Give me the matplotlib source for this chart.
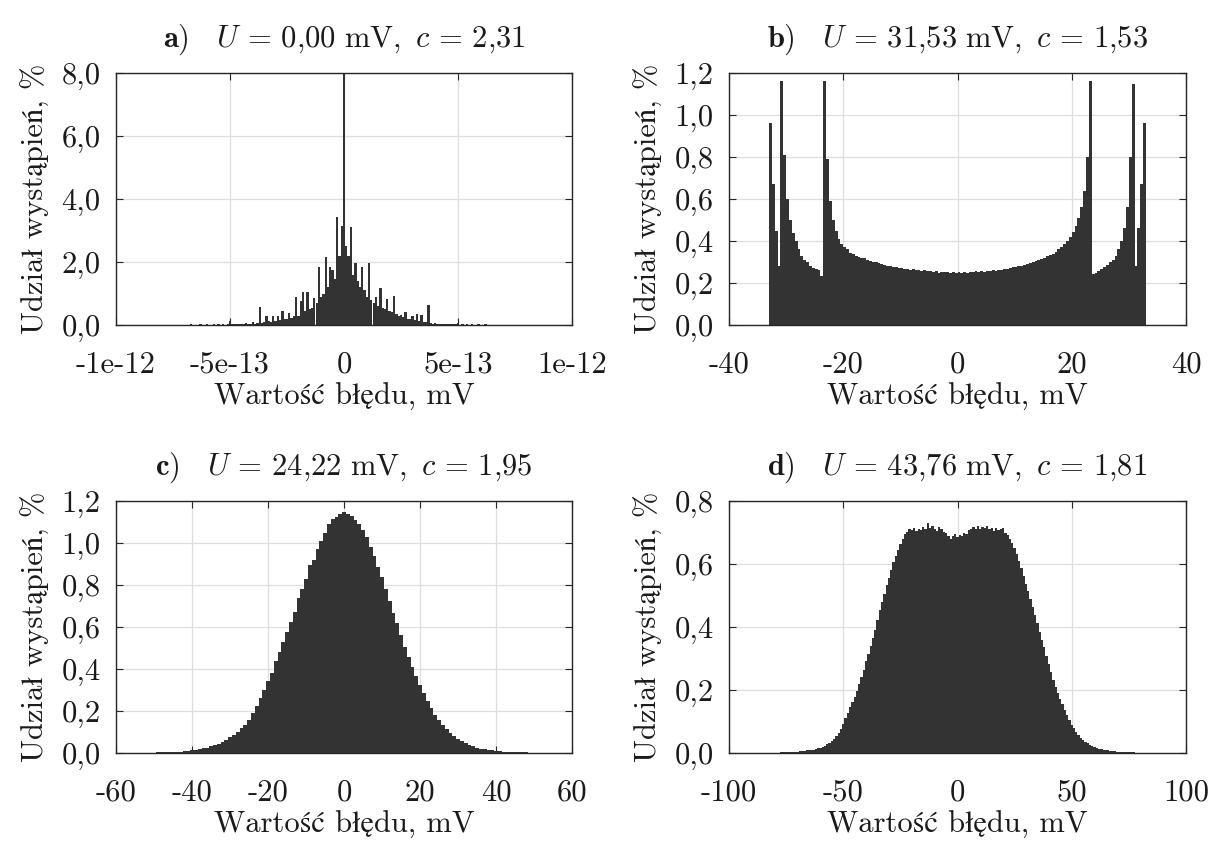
import numpy as np
import matplotlib
matplotlib.use('Agg')
import matplotlib.pyplot as plt
from matplotlib.ticker import FuncFormatter

# Computer Modern look, Polish letters fall back to STIX / DejaVu
plt.rcParams['font.family'] = ['cmr10', 'STIXGeneral', 'DejaVu Serif']
plt.rcParams['mathtext.fontset'] = 'cm'
plt.rcParams['axes.unicode_minus'] = False
plt.rcParams['axes.formatter.use_mathtext'] = True

# ---- data: bar heights in % ----
# a) bins of 1e-14 mV, centres from -80e-14 to 80e-14
A_STEP = 1e-14
A_START = -80e-14
a_vals = [
    0.0, 0.01, 0.0, 0.0, 0.01, 0.0, 0.01, 0.0, 0.0, 0.01,
    0.01, 0.0, 0.01, 0.02, 0.01, 0.0, 0.01, 0.02, 0.01, 0.01,
    0.02, 0.01, 0.01, 0.02, 0.01, 0.02, 0.01, 0.02, 0.01, 0.02,
    0.12, 0.02, 0.02, 0.03, 0.02, 0.03, 0.02, 0.05, 0.02, 0.03,
    0.10, 0.04, 0.05, 0.58, 0.06, 0.08, 0.29, 0.12, 0.10, 0.30,
    0.12, 0.29, 0.15, 0.44, 0.18, 0.20, 0.37, 0.22, 0.28, 0.88,
    0.30, 0.77, 1.06, 0.45, 1.05, 0.50, 0.55, 0.85, 0.70, 1.83,
    0.90, 1.00, 2.16, 1.20, 1.83, 1.75, 1.45, 3.44, 2.20, 3.15,
    8.60,
    2.50, 2.20, 3.12, 1.60, 1.96, 1.40, 1.20, 1.83, 1.10, 0.90,
    1.96, 0.80, 0.70, 0.90, 0.60, 1.16, 0.55, 0.50, 0.82, 0.45,
    0.40, 0.92, 0.35, 0.30, 0.33, 0.25, 0.42, 0.20, 0.18, 0.30,
    0.15, 0.35, 0.12, 0.33, 0.10, 0.08, 0.63, 0.05, 0.04, 0.06,
    0.03, 0.02, 0.04, 0.02, 0.03, 0.02, 0.02, 0.03, 0.02, 0.06,
    0.01, 0.02, 0.01, 0.02, 0.01, 0.02, 0.01, 0.01, 0.02, 0.01,
    0.01, 0.02, 0.01, 0.0, 0.01, 0.01, 0.0, 0.01, 0.01, 0.0,
    0.01, 0.0, 0.0, 0.01, 0.0, 0.0, 0.0, 0.0, 0.0, 0.0,
]

# b) bins of 0.5 mV, centres from -32.75 to 32.75
B_STEP = 0.5
B_START = -32.75
b_vals = [
    0.96, 0.67, 0.45, 0.28, 1.16, 0.81, 0.60, 0.50, 0.44, 0.40,
    0.36, 0.33, 0.31, 0.30, 0.28, 0.27, 0.265, 0.26, 0.235, 1.16,
    0.79, 0.59, 0.50, 0.45, 0.41, 0.385, 0.37, 0.36, 0.345, 0.34,
    0.33, 0.325, 0.32, 0.318, 0.31, 0.305, 0.30, 0.302, 0.295, 0.29,
    0.287, 0.28, 0.283, 0.275, 0.276, 0.27, 0.272, 0.266, 0.268, 0.262,
    0.265, 0.26, 0.262, 0.258, 0.26, 0.255, 0.258, 0.252, 0.256, 0.25,
    0.254, 0.251, 0.253, 0.249, 0.252, 0.25,
    0.253, 0.249, 0.252, 0.25, 0.254, 0.251, 0.255, 0.252, 0.256, 0.254,
    0.258, 0.256, 0.26, 0.258, 0.263, 0.262, 0.266, 0.268, 0.27, 0.274,
    0.276, 0.28, 0.283, 0.287, 0.29, 0.295, 0.30, 0.304, 0.31, 0.316,
    0.32, 0.328, 0.335, 0.34, 0.35, 0.36, 0.37, 0.385, 0.40, 0.42,
    0.445, 0.47, 0.51, 0.56, 0.64, 0.80, 1.16, 0.245, 0.25, 0.258,
    0.265, 0.275, 0.285, 0.30, 0.31, 0.33, 0.36, 0.40, 0.46, 0.56,
    0.80, 1.15, 0.28, 0.46, 0.67, 0.96,
]

# c) bins of 1 mV, centres from -55 to 55
C_STEP = 1.0
C_START = -55.0
c_vals = [
    0.001, 0.001, 0.001, 0.002, 0.002, 0.002, 0.003, 0.003, 0.004, 0.004,
    0.005, 0.006, 0.007, 0.008, 0.010, 0.012, 0.014, 0.018, 0.022, 0.026,
    0.031, 0.037, 0.045, 0.053, 0.063, 0.075, 0.088, 0.102, 0.118, 0.135,
    0.158, 0.190, 0.225, 0.262, 0.300, 0.345, 0.383, 0.44, 0.48, 0.53,
    0.575, 0.625, 0.67, 0.74, 0.78, 0.83, 0.895, 0.92, 0.97, 1.01,
    1.05, 1.09, 1.115, 1.125, 1.14,
    1.15,
    1.138, 1.13, 1.11, 1.09, 1.06, 1.03, 0.98, 0.94, 0.885, 0.84,
    0.78, 0.725, 0.665, 0.62, 0.56, 0.505, 0.455, 0.41, 0.365, 0.325,
    0.285, 0.248, 0.213, 0.182, 0.155, 0.132, 0.112, 0.095, 0.080, 0.066,
    0.055, 0.046, 0.038, 0.031, 0.026, 0.021, 0.017, 0.014, 0.012, 0.010,
    0.008, 0.007, 0.006, 0.005, 0.004, 0.004, 0.003, 0.003, 0.002, 0.002,
    0.002, 0.001, 0.001, 0.001, 0.001,
]

# d) bins of 1 mV, centres from -80 to 80
D_STEP = 1.0
D_START = -80.0
d_vals = [
    0.001, 0.001, 0.001, 0.002, 0.002, 0.002, 0.002, 0.003, 0.003, 0.004,
    0.004, 0.005, 0.006, 0.007, 0.008, 0.009, 0.010, 0.011, 0.013, 0.015,
    0.017, 0.020, 0.023, 0.027, 0.032, 0.038, 0.045, 0.053, 0.064, 0.077,
    0.092, 0.110, 0.128, 0.145, 0.162, 0.178, 0.196, 0.218, 0.240, 0.265,
    0.292, 0.315, 0.340, 0.366, 0.392, 0.422, 0.455, 0.48, 0.505, 0.532,
    0.556, 0.58, 0.605, 0.625, 0.645, 0.662, 0.678, 0.695, 0.702, 0.712,
    0.708, 0.715, 0.705, 0.712, 0.708, 0.718, 0.712, 0.73, 0.715, 0.72,
    0.712, 0.705, 0.718, 0.71, 0.702, 0.697, 0.69, 0.678, 0.69, 0.695,
    0.685,
    0.692, 0.688, 0.70, 0.695, 0.708, 0.712, 0.718, 0.71, 0.722, 0.712,
    0.718, 0.715, 0.72, 0.71, 0.713, 0.706, 0.715, 0.708, 0.712, 0.715,
    0.70, 0.692, 0.68, 0.668, 0.652, 0.632, 0.61, 0.588, 0.562, 0.538,
    0.513, 0.49, 0.462, 0.438, 0.412, 0.384, 0.36, 0.335, 0.308, 0.282,
    0.256, 0.232, 0.21, 0.19, 0.172, 0.154, 0.136, 0.12, 0.104, 0.09,
    0.078, 0.066, 0.056, 0.048, 0.042, 0.036, 0.031, 0.026, 0.022, 0.019,
    0.016, 0.014, 0.012, 0.010, 0.009, 0.008, 0.007, 0.006, 0.005, 0.004,
    0.004, 0.003, 0.003, 0.002, 0.002, 0.002, 0.002, 0.001, 0.001, 0.001,
]

titles = [
    r'$\mathbf{a)}\quad U \,=\, 0{,}00\ \mathrm{mV},\ c \,=\, 2{,}31$',
    r'$\mathbf{b)}\quad U \,=\, 31{,}53\ \mathrm{mV},\ c \,=\, 1{,}53$',
    r'$\mathbf{c)}\quad U \,=\, 24{,}22\ \mathrm{mV},\ c \,=\, 1{,}95$',
    r'$\mathbf{d)}\quad U \,=\, 43{,}76\ \mathrm{mV},\ c \,=\, 1{,}81$',
]

a_xticks = [-1e-12, -5e-13, 0, 5e-13, 1e-12]
a_xlabels = ['-1e-12', '-5e-13', '0', '5e-13', '1e-12']
b_xticks = [-40, -20, 0, 20, 40]
c_xticks = [-60, -40, -20, 0, 20, 40, 60]
d_xticks = [-100, -50, 0, 50, 100]

a_yticks = [0, 2, 4, 6, 8]
b_yticks = [0, 0.2, 0.4, 0.6, 0.8, 1.0, 1.2]
c_yticks = [0, 0.2, 0.4, 0.6, 0.8, 1.0, 1.2]
d_yticks = [0, 0.2, 0.4, 0.6, 0.8]

XLABEL = 'Wartość błędu, mV'
YLABEL = 'Udział wystąpień, %'

BAR_COLOR = '#333333'
GRID_COLOR = '#dedede'
AX_COLOR = '#262626'
TXT_COLOR = '#1a1a1a'
FS = 22

panels = [
    (a_vals, A_START, A_STEP, a_xticks, a_xlabels, a_yticks, (-1e-12, 1e-12)),
    (b_vals, B_START, B_STEP, b_xticks, None, b_yticks, (-40, 40)),
    (c_vals, C_START, C_STEP, c_xticks, None, c_yticks, (-60, 60)),
    (d_vals, D_START, D_STEP, d_xticks, None, d_yticks, (-100, 100)),
]

W, H = 1211, 843
# axes boxes in pixels: left, top, right, bottom
boxes = [(116, 73, 572, 325), (729, 73, 1186, 325),
         (116, 501, 572, 753), (729, 501, 1186, 753)]

fig = plt.figure(figsize=(W / 100, H / 100), dpi=100, facecolor='white')

comma_fmt = FuncFormatter(lambda v, p: f'{v:.1f}'.replace('.', ','))

for (vals, start, step, xt, xl, yt, xlim), box, title in zip(panels, boxes, titles):
    l, t, r, b = box
    ax = fig.add_axes([l / W, 1 - b / H, (r - l) / W, (b - t) / H])
    centres = start + step * np.arange(len(vals))
    ax.bar(centres, vals, width=step, color=BAR_COLOR, linewidth=0, zorder=2)

    ax.set_xlim(*xlim)
    ax.set_ylim(yt[0], yt[-1])
    ax.set_xticks(xt)
    if xl is not None:
        ax.set_xticklabels(xl)
    else:
        ax.set_xticklabels([str(v) for v in xt])
    ax.set_yticks(yt)
    ax.yaxis.set_major_formatter(comma_fmt)

    ax.grid(True, color=GRID_COLOR, linewidth=0.9, zorder=0)
    ax.set_axisbelow(True)
    for s in ax.spines.values():
        s.set_color(AX_COLOR)
        s.set_linewidth(1.0)
        s.set_zorder(3)
    ax.tick_params(direction='in', length=5, width=0.8, color=AX_COLOR,
                   top=True, right=True, labelsize=FS, labelcolor=TXT_COLOR)
    ax.tick_params(axis='x', pad=19)
    ax.tick_params(axis='y', pad=11)

    ax.set_xlabel(XLABEL, fontsize=FS, color=TXT_COLOR, labelpad=3)
    ax.set_ylabel(YLABEL, fontsize=FS, color=TXT_COLOR, labelpad=8)
    ax.set_title(title, fontsize=FS, color=TXT_COLOR, pad=19)

fig.savefig('out.png', dpi=100, facecolor='white')
